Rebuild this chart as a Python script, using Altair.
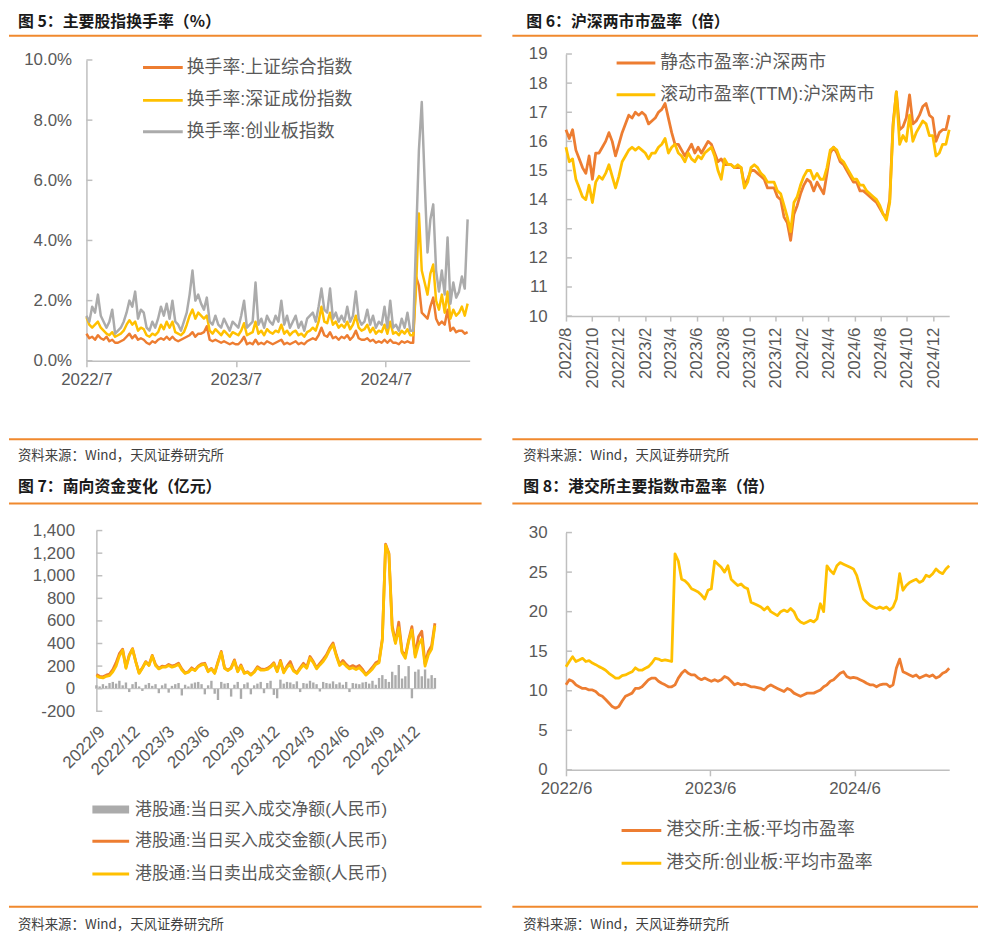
import altair as alt
import pandas as pd

ORANGE = "#ED7D31"
YELLOW = "#FFC000"
GRAY = "#ABABAB"
RULE_C = "#F0892E"
AXIS_C = "#BFBFBF"
LABEL_C = "#595959"
TITLE_C = "#1A1A1A"
LAT = "Liberation Sans"
MIX = "Liberation Sans, Noto Sans CJK SC"
CJK = "Noto Sans CJK SC"
SOURCE = "资料来源：Wind，天风证券研究所"

# ---------------- Panel 1: turnover (%) ----------------
p1_sse = [0.9, 0.75, 0.8, 0.7, 0.85, 0.75, 0.7, 0.8, 0.65, 0.7,
          0.6, 0.6, 0.65, 0.7, 0.8, 0.9, 0.75, 0.85, 0.7, 0.75,
          0.7, 0.6, 0.55, 0.65, 0.6, 0.7, 0.75, 0.7, 0.8, 0.7,
          0.8, 0.7, 0.65, 0.7, 0.75, 0.8, 0.85, 0.95, 0.8, 0.9,
          0.9, 0.95, 1.15, 0.7, 0.65, 0.7, 0.65, 0.6, 0.65, 0.6,
          0.55, 0.6, 0.55, 0.55, 0.65, 0.8, 0.55, 0.6, 0.55, 0.7,
          0.55, 0.6, 0.55, 0.65, 0.6, 0.55, 0.6, 0.65, 0.7, 0.55,
          0.6, 0.55, 0.6, 0.65, 0.55, 0.6, 0.55, 0.65, 0.7, 0.75,
          0.7, 0.85, 1.1, 0.85, 0.8, 0.95, 0.75, 0.8, 0.7, 0.8,
          0.75, 0.85, 0.7, 0.8, 1.0, 0.75, 0.7, 0.7, 0.75, 0.65,
          0.7, 0.6, 0.65, 0.6, 0.7, 0.6, 0.7, 0.6, 0.6, 0.55,
          0.65, 0.6, 0.65, 0.6, 0.6, 2.8, 2.5, 1.6, 1.5, 1.4,
          1.8, 2.1, 1.4, 1.2, 1.3, 1.2, 1.7, 1.0, 1.1, 0.95,
          1.0, 1.0, 0.9, 0.95]
p1_szse = [1.45, 1.2, 1.1, 1.2, 1.3, 1.1, 1.0, 0.9, 0.85, 0.95,
           0.8, 0.85, 0.9, 1.0, 1.2, 1.35, 1.2, 1.3, 1.0, 1.1,
           1.05, 0.85, 0.8, 0.9, 0.85, 0.95, 1.2, 1.05, 1.3, 1.1,
           1.3, 0.95, 0.9, 0.85, 0.95, 1.2, 1.5, 1.7, 1.4, 1.6,
           1.5, 1.4, 1.5, 1.0, 0.9, 1.05, 0.95, 0.85, 1.0, 0.9,
           0.8, 0.95, 0.9, 0.85, 1.0, 1.25, 0.85, 0.9, 0.95, 1.3,
           0.9, 1.0, 0.85, 1.05, 0.95, 0.9, 1.0, 0.95, 1.2, 0.9,
           1.0, 0.85, 0.95, 1.0, 0.85, 0.9, 0.8, 0.95, 1.0, 1.1,
           1.0, 1.3, 1.8, 1.3, 1.25, 1.6, 1.2, 1.3, 1.1, 1.2,
           1.1, 1.3, 1.05, 1.2, 1.5, 1.1, 1.0, 1.05, 1.2, 0.95,
           1.1, 0.9, 1.0, 0.95, 1.2, 0.9, 1.3, 0.9, 0.95, 0.85,
           1.0, 0.9, 1.05, 0.85, 0.85, 2.4, 4.9, 3.0, 2.6, 2.2,
           2.9, 3.2, 2.0, 1.7, 2.2, 1.6, 2.3, 1.4, 1.7, 1.5,
           1.6, 1.8, 1.5, 1.9]
p1_gem = [1.5, 1.3, 1.8, 1.6, 2.2, 1.5, 1.3, 1.1, 1.3, 1.7,
          0.9, 1.0, 1.1, 1.3, 1.6, 2.0, 1.8, 2.3, 1.4, 1.7,
          1.6, 1.1, 1.0, 1.3, 1.1, 1.4, 1.8, 1.5, 1.9, 1.4,
          2.0, 1.3, 1.2, 1.0, 1.3, 1.6, 2.2, 3.0, 2.0, 2.2,
          1.9, 1.7, 2.1, 1.3, 1.2, 1.5, 1.2, 1.1, 1.4, 1.2,
          1.0, 1.3, 1.2, 1.1, 1.5, 2.0, 1.1, 1.2, 1.3, 2.6,
          1.2, 1.4, 1.1, 1.5, 1.3, 1.2, 1.5, 1.3, 2.0, 1.2,
          1.5, 1.1, 1.3, 1.5, 1.1, 1.3, 1.0, 1.4, 1.5, 1.6,
          1.3, 1.8, 2.4, 1.7, 1.6, 2.4, 1.4, 1.6, 1.3, 1.5,
          1.3, 1.8, 1.3, 1.5, 2.3, 1.4, 1.2, 1.3, 1.7, 1.2,
          1.5, 1.1, 1.3, 1.2, 1.8, 1.1, 2.0, 1.1, 1.2, 1.0,
          1.4, 1.1, 1.6, 1.0, 1.0, 4.0, 7.0, 8.6, 6.0, 3.6,
          4.7, 5.2, 3.0, 2.3, 3.0, 2.2, 4.1, 1.9, 2.6, 2.1,
          2.3, 2.8, 2.4, 4.7]
p1_names = ["换手率:上证综合指数", "换手率:深证成份指数", "换手率:创业板指数"]
p1_yticks = [0, 2, 4, 6, 8, 10]

# ---------------- Panel 2: A-share PE ----------------
p2_static = [16.4, 16.1, 16.4, 15.7, 15.4, 15.1, 14.9, 15.5, 14.7, 15.6,
             15.6, 15.8, 16.0, 16.3, 16.0, 15.5, 15.9, 16.3, 16.6, 16.9,
             16.8, 17.0, 16.9, 17.0, 16.9, 16.6, 16.7, 16.8, 17.0, 17.1,
             17.3, 16.8, 16.3, 15.9, 15.9, 15.7, 15.5, 15.7, 15.9, 15.6,
             15.8, 15.6, 15.8, 16.0, 15.9, 15.6, 15.3, 15.4, 15.2, 15.2,
             15.2, 15.1, 15.1, 15.1, 14.5, 14.7, 15.0, 15.0, 14.9, 14.8,
             14.7, 14.4, 14.4, 14.4, 14.1, 14.0, 13.4, 13.2, 12.6, 13.5,
             13.8, 14.2, 14.5, 14.7, 14.6, 14.3, 14.6, 14.4, 14.2, 14.9,
             15.6, 15.8, 15.6, 15.3, 15.2, 15.0, 14.8, 14.6, 14.6, 14.3,
             14.3, 14.2, 14.1, 14.0, 13.9, 13.7, 13.5, 13.4, 14.0, 16.6,
             17.7, 16.4, 16.5, 16.8, 17.6, 16.6, 16.7, 16.9, 17.2, 17.3,
             16.9, 16.8, 16.0, 16.3, 16.4, 16.4, 16.9]
p2_ttm = [15.8, 15.3, 15.4, 14.7, 14.4, 14.1, 14.0, 14.5, 13.9, 14.6,
          14.8, 14.7, 14.9, 15.2, 14.8, 14.4, 14.8, 15.3, 15.5, 15.7,
          15.8, 15.7, 15.8, 15.7, 15.6, 15.4, 15.6, 15.6, 15.8, 15.9,
          16.1, 15.6, 15.8, 15.9, 15.6, 15.5, 15.3, 15.6, 15.4, 15.3,
          15.5, 15.4, 15.6, 15.7, 15.8, 15.5, 15.0, 14.7, 15.4, 15.2,
          15.2, 15.1, 15.2, 15.1, 14.4, 14.6, 15.1, 15.2, 15.1, 14.9,
          14.8, 14.6, 14.6, 14.6, 14.3, 14.2, 13.8, 13.4, 12.9, 13.9,
          14.1, 14.5, 14.8, 15.0, 15.0, 14.7, 14.9, 14.7, 14.7, 15.1,
          15.7, 15.8, 15.7, 15.4, 15.3, 15.1, 14.9, 14.7, 14.7, 14.5,
          14.5, 14.3, 14.2, 14.1, 14.0, 13.8, 13.5, 13.3, 13.9, 16.5,
          17.7, 15.9, 16.2, 16.0, 16.9, 16.0, 16.3, 16.5, 16.7, 16.6,
          16.2, 16.2, 15.5, 15.6, 15.9, 15.9, 16.4]
p2_names = ["静态市盈率:沪深两市", "滚动市盈率(TTM):沪深两市"]
p2_yticks = list(range(10, 20))

# ---------------- Panel 3: southbound flows (100m CNY) ----------------
p3_buy = [125, 110, 105, 120, 130, 170, 230, 310, 350, 190,
          300, 355, 240, 140, 185, 240, 210, 295, 215, 180,
          200, 195, 215, 200, 210, 225, 175, 140, 150, 185,
          165, 200, 220, 225, 155, 180, 140, 240, 330, 185,
          165, 185, 255, 155, 210, 140, 150, 125, 150, 195,
          175, 170, 180, 200, 230, 155, 250, 150, 200, 240,
          165, 140, 185, 225, 190, 285, 240, 185, 225, 260,
          300, 360, 405, 300, 215, 250, 215, 190, 205, 190,
          205, 170, 125, 155, 190, 230, 245, 440, 1280, 1200,
          560, 410, 590, 330, 290, 430, 550, 300, 460, 510,
          220, 330, 380, 580]
p3_sell = [115, 100, 95, 110, 115, 150, 200, 290, 340, 180,
           290, 350, 235, 135, 180, 235, 205, 290, 205, 175,
           190, 190, 205, 190, 200, 215, 165, 135, 145, 175,
           160, 195, 210, 215, 150, 175, 135, 230, 320, 180,
           160, 180, 245, 150, 200, 135, 145, 120, 145, 185,
           165, 165, 170, 190, 220, 150, 240, 140, 190, 210,
           155, 135, 175, 210, 180, 270, 230, 175, 210, 240,
           285, 345, 390, 290, 205, 230, 200, 175, 185, 170,
           185, 155, 120, 145, 175, 215, 230, 430, 1270, 1190,
           530, 400, 540, 320, 270, 420, 520, 280, 390, 440,
           200, 300, 350, 560]
p3_net = [30, 20, 40, 25, 50, 60, 45, 70, 30, 55,
          -30, 40, 60, 20, -20, 35, 50, 25, 40, -40,
          30, 45, -35, 25, 40, 50, -60, 35, 20, 45,
          55, 60, 40, -50, 30, 70, -45, -100, 60, 45,
          50, -70, 35, 60, -90, 40, 55, -50, 30, 45,
          60, -40, 50, 70, -55, -85, 80, 45, 60, 55,
          40, 65, -30, 50, 45, 70, 55, 40, -25, 60,
          50, 45, 65, 40, 55, 35, 60, -30, 50, 45,
          40, 55, 60, 45, 70, 35, 95, 120, 85, 60,
          150, 120, 210, 90, 110, 200, -85, 150, 170, 110,
          170, 90, 120, 95]
p3_names = ["港股通:当日买入成交净额(人民币)", "港股通:当日买入成交金额(人民币)",
            "港股通:当日卖出成交金额(人民币)"]
p3_yticks = list(range(-200, 1401, 200))

# ---------------- Panel 4: HKEX PE ----------------
p4_main = [10.75, 11.4, 11.2, 10.75, 10.5, 10.3, 10.3, 10.1, 10.1, 9.9,
           9.5, 9.3, 8.9, 8.45, 8.0, 7.8, 8.0, 8.7, 9.3, 9.5,
           9.7, 10.3, 10.3, 10.5, 10.95, 11.4, 11.6, 11.6, 11.2, 10.95,
           10.75, 10.5, 10.5, 10.75, 11.6, 12.2, 12.6, 12.2, 12.0, 12.0,
           11.6, 11.4, 11.6, 11.4, 11.2, 11.4, 11.2, 11.4, 11.8, 11.6,
           11.2, 10.75, 10.95, 10.75, 10.85, 10.7, 10.5, 10.5, 10.4, 10.3,
           10.1, 10.5, 10.75, 10.5, 10.3, 10.1, 9.9, 10.3, 10.1, 9.7,
           9.5, 9.3, 9.5, 9.7, 9.7, 9.7, 9.9, 10.1, 10.5, 10.75,
           11.2, 11.4, 11.8, 12.2, 12.4, 11.8, 11.6, 11.7, 11.6, 11.4,
           11.2, 10.95, 10.75, 10.75, 10.5, 10.75, 10.85, 10.85, 10.5, 10.75,
           12.85, 14.0, 12.4, 12.2, 12.0, 11.8, 12.0, 11.6, 11.8, 12.0,
           11.8, 12.0, 11.6, 11.8, 12.2, 12.4, 12.85]
p4_gem = [13.05, 13.7, 14.3, 13.7, 13.9, 14.1, 13.7, 13.8, 13.5, 13.3,
          13.05, 12.85, 12.6, 12.2, 11.9, 11.6, 11.6, 11.9, 12.0, 12.2,
          12.4, 12.9, 12.6, 12.6, 12.85, 13.05, 13.5, 14.1, 14.0, 13.8,
          13.9, 13.8, 13.7, 27.3, 26.4, 24.1, 23.9, 23.5, 22.9, 22.7,
          22.5, 22.1, 21.6, 22.7, 22.9, 26.4, 26.0, 25.6, 25.0, 25.8,
          24.1, 23.7, 23.3, 23.5, 23.1, 22.9, 21.2, 21.0, 20.8, 20.6,
          20.2, 20.6, 20.0, 19.75, 19.5, 20.0, 20.2, 20.0, 20.4, 20.0,
          19.1, 18.7, 18.5, 18.7, 18.9, 18.7, 19.1, 21.0, 20.0, 25.8,
          25.2, 24.8, 25.8, 26.2, 26.0, 25.8, 25.6, 25.4, 24.6, 23.1,
          21.6, 21.2, 20.8, 20.6, 20.4, 20.6, 20.4, 20.6, 20.2, 20.6,
          21.6, 24.8, 22.7, 23.3, 23.7, 23.9, 24.1, 23.7, 23.9, 24.6,
          24.4, 24.8, 25.4, 25.0, 24.8, 25.4, 25.8]
p4_names = ["港交所:主板:平均市盈率", "港交所:创业板:平均市盈率"]
p4_yticks = [0, 5, 10, 15, 20, 25, 30]

p1_dates = pd.date_range("2022-07-01", periods=len(p1_sse), freq="7D")
p2_dates = pd.date_range("2022-08-01", "2025-01-07", periods=len(p2_static))
p3_dates = pd.date_range("2022-09-01", "2025-02-01", periods=len(p3_buy))
p4_dates = pd.date_range("2022-06-01", "2025-01-27", periods=len(p4_main))


def D(y, m, d=1):
    return alt.DateTime(year=y, month=m, date=d)


def text_layer(s, x, y, size, color, weight="normal", font=MIX):
    return alt.Chart(pd.DataFrame({"t": [s]})).mark_text(
        align="left", baseline="middle", font=font, fontSize=size,
        fontWeight=weight, color=color).encode(
        text="t:N", x=alt.value(x), y=alt.value(y))


def hline(x1, x2, y, color, width):
    return alt.Chart(pd.DataFrame({"a": [0]})).mark_rule(
        color=color, strokeWidth=width, strokeCap="butt").encode(
        x=alt.value(x1), x2=alt.value(x2), y=alt.value(y))


def frame(title, tx, ty, rx1, rx2, rtop, rbot, sx, sy, top_pad=None):
    items = [
        text_layer(title, tx, ty, 16, TITLE_C, "bold", CJK),
        hline(rx1, rx2, rtop, RULE_C, 2),
        hline(rx1, rx2, rbot, RULE_C, 2),
        text_layer(SOURCE, sx, sy, 13.5, "#404040", "normal", CJK),
    ]
    if top_pad is not None:
        # white spacer that keeps the title glyphs inside the drawing
        items.append(hline(rx1, rx1 + 6, top_pad, "white", 1))
    return items


def legend(items, x1, x2, tx, ys, size):
    out = []
    for (label, color, width), y in zip(items, ys):
        out.append(hline(x1, x2, y, color, width))
        out.append(text_layer(label, tx, y, size, LABEL_C))
    return out


def inner_ticks(vals, yenc, x0=0):
    return alt.Chart(pd.DataFrame({"value": vals})).mark_rule(
        color=AXIS_C, strokeWidth=1.5).encode(y=yenc, x=alt.value(x0), x2=alt.value(x0 + 6))


def line_layer(dates, vals, color, xenc, yenc, width=2.8):
    df = pd.DataFrame({"date": dates, "value": vals})
    return alt.Chart(df).mark_line(color=color, strokeWidth=width,
                                   strokeJoin="round").encode(x=xenc, y=yenc)


# Grid origins: column 1 at page x 96, column 2 at 567; row 1 at page y ~55, row 2 at ~528.

# ---------- Panel 1 (plot spans x -10..376, y 0..303) ----------
x1 = alt.X("date:T", title=None,
           scale=alt.Scale(domain=[D(2022, 7, 1), D(2025, 1, 22)], range=[-10, 376]),
           axis=alt.Axis(values=[D(2022, 7), D(2023, 7), D(2024, 7)], format="%Y/%-m",
                         labelAngle=0, tickSize=6, labelPadding=5, labelFlush=False,
                         labelOverlap=False))
y1 = alt.Y("value:Q", title=None, scale=alt.Scale(domain=[0, 10], nice=False),
           axis=alt.Axis(values=p1_yticks, labelExpr="format(datum.value, '.1f') + '%'",
                         ticks=False, labelPadding=15, offset=10))
p1 = alt.layer(
    line_layer(p1_dates, p1_sse, ORANGE, x1, y1, 2.5),
    line_layer(p1_dates, p1_szse, YELLOW, x1, y1, 2.5),
    line_layer(p1_dates, p1_gem, GRAY, x1, y1, 2.5),
    inner_ticks(p1_yticks, y1, -10),
    *legend([(p1_names[0], ORANGE, 3), (p1_names[1], YELLOW, 3), (p1_names[2], GRAY, 3)],
            47, 87, 91, [7.7, 40.7, 72.3], 18),
    *frame("图 5：主要股指换手率（%）", -79, -38.5, -88, 388, -24.3, 382, -79, 399, -48),
).properties(width=376, height=303)

# ---------- Panel 2 (plot spans x 0..386, y -6..258) ----------
p2_xvals = [D(2022, 8), D(2022, 10), D(2022, 12), D(2023, 2), D(2023, 4), D(2023, 6),
            D(2023, 8), D(2023, 10), D(2023, 12), D(2024, 2), D(2024, 4), D(2024, 6),
            D(2024, 8), D(2024, 10), D(2024, 12)]
x2 = alt.X("date:T", title=None,
           scale=alt.Scale(domain=[D(2022, 8, 1), D(2025, 1, 7)]),
           axis=alt.Axis(values=p2_xvals, format="%Y/%-m", labelAngle=270, tickSize=5,
                         labelPadding=6, labelFlush=False, labelOverlap=False,
                         labelAlign="right", labelBaseline="middle"))
y2 = alt.Y("value:Q", title=None,
           scale=alt.Scale(domain=[10, 19], nice=False, zero=False, range=[258, -6]),
           axis=alt.Axis(values=p2_yticks, format="d", ticks=False, labelPadding=19))
p2 = alt.layer(
    line_layer(p2_dates, p2_static, ORANGE, x2, y2),
    line_layer(p2_dates, p2_ttm, YELLOW, x2, y2),
    inner_ticks(p2_yticks, y2),
    *legend([(p2_names[0], ORANGE, 3), (p2_names[1], YELLOW, 3)], 51, 90, 95, [3, 35], 18),
    *frame("图 6：沪深两市市盈率（倍）", -40, -38.5, -54, 415, -24.3, 382, -43, 399, -48),
).properties(width=386, height=258)

# ---------- Panel 3 (plot spans x 0..341, y 0..182) ----------
p3_xvals = [D(2022, 9), D(2022, 12), D(2023, 3), D(2023, 6), D(2023, 9), D(2023, 12),
            D(2024, 3), D(2024, 6), D(2024, 9), D(2024, 12)]
x3 = alt.X("date:T", title=None,
           scale=alt.Scale(domain=[D(2022, 9, 1), D(2025, 2, 1)]),
           axis=alt.Axis(values=p3_xvals, format="%Y/%-m", labelAngle=315, domain=False,
                         ticks=False, labelPadding=12, labelFlush=False, labelOverlap=False,
                         labelAlign="right", labelBaseline="top"))
y3 = alt.Y("value:Q", title=None, scale=alt.Scale(domain=[-200, 1400], nice=False, zero=False),
           axis=alt.Axis(values=p3_yticks,
                         labelExpr="replace(format(datum.value, ','), '\u2212', '-')",
                         ticks=False, labelPadding=22))
net_layer = alt.Chart(pd.DataFrame({"date": p3_dates, "value": p3_net})).mark_rule(
    color=GRAY, strokeWidth=2.4).encode(x=x3, y=y3, y2=alt.datum(0))
zero_layer = alt.Chart(pd.DataFrame({"value": [0]})).mark_rule(
    color=AXIS_C, strokeWidth=1).encode(y=y3, x=alt.value(0), x2=alt.value(341))
p3 = alt.layer(
    net_layer,
    zero_layer,
    line_layer(p3_dates, p3_buy, ORANGE, x3, y3),
    line_layer(p3_dates, p3_sell, YELLOW, x3, y3),
    inner_ticks(p3_yticks, y3),
    *legend([(p3_names[0], GRAY, 8), (p3_names[1], ORANGE, 3), (p3_names[2], YELLOW, 3)],
            -4, 33, 39, [281, 313, 346], 17),
    *frame("图 7：南向资金变化（亿元）", -79, -43.5, -88, 388, -27.3, 379, -79, 397),
).properties(width=341, height=182)

# ---------- Panel 4 (plot spans x 0..386, y 2..241) ----------
x4 = alt.X("date:T", title=None,
           scale=alt.Scale(domain=[D(2022, 6, 1), D(2025, 1, 27)]),
           axis=alt.Axis(values=[D(2022, 6), D(2023, 6), D(2024, 6)], format="%Y/%-m",
                         labelAngle=0, tickSize=6, labelPadding=5, labelFlush=False,
                         labelOverlap=False))
y4 = alt.Y("value:Q", title=None, scale=alt.Scale(domain=[0, 30], nice=False, range=[241, 2]),
           axis=alt.Axis(values=p4_yticks, format="d", ticks=False, labelPadding=19))
p4 = alt.layer(
    line_layer(p4_dates, p4_main, ORANGE, x4, y4),
    line_layer(p4_dates, p4_gem, YELLOW, x4, y4),
    inner_ticks(p4_yticks, y4),
    *legend([(p4_names[0], ORANGE, 3), (p4_names[1], YELLOW, 3)], 56, 96, 101, [302, 335], 18),
    *frame("图 8：港交所主要指数市盈率（倍）", -43, -43.5, -54, 415, -27.3, 379, -43, 397),
).properties(width=386, height=241)

chart = alt.vconcat(
    alt.hconcat(p1, p2, spacing=29),
    alt.hconcat(p3, p4, spacing=29),
    spacing=16,
).properties(padding=0, background="white").configure_axis(
    labelFont=LAT, labelFontSize=17, labelColor=LABEL_C, domainColor=AXIS_C,
    domainWidth=1.5, tickColor=AXIS_C, tickWidth=1.5, grid=False
).configure_view(stroke=None)

chart.save("out.html", embed_options={"renderer": "svg", "actions": False})
